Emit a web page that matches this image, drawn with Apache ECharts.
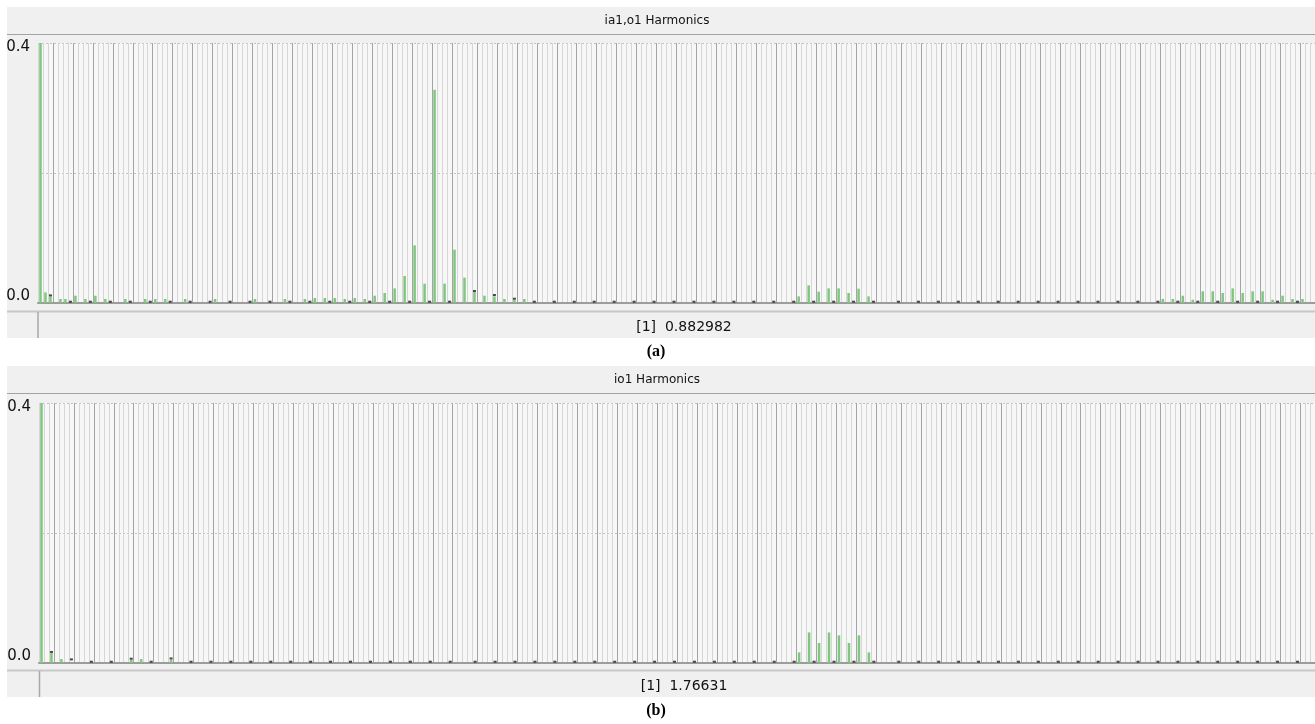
<!DOCTYPE html>
<html><head><meta charset="utf-8">
<script src="https://cdn.jsdelivr.net/npm/echarts@6/dist/echarts.min.js"></script>
<style>html,body{margin:0;padding:0;background:#fff}#c{width:1315px;height:724px}</style>
</head><body><div id="c"></div>
<script>
// ---------- data ----------
const SLOTS = 256;                       // harmonic slots on the x axis
const topTitle = 'ia1,o1 Harmonics';
const bottomTitle = 'io1 Harmonics';
const topReadout = '[1]  0.882982';
const bottomReadout = '[1]  1.76631';
const topCaption = '(a)';
const bottomCaption = '(b)';
const yTickLabels = ['0.0', '0.4'];

// [slot, value] – green trace, top chart
const topGreen = [[0,0.882982],[1,0.0163],[2,0.0102],[4,0.0062],[5,0.0062],[7,0.0112],[9,0.0062],[11,0.0112],[13,0.0062],
  [17,0.0062],[21,0.0062],[23,0.0062],[25,0.0062],[29,0.0062],[35,0.0062],[43,0.0062],[49,0.0062],[53,0.0062],
  [55,0.0077],[57,0.0077],[59,0.0077],[61,0.0062],[63,0.0077],[65,0.0062],[67,0.0112],[69,0.0154],[71,0.0225],
  [73,0.0415],[75,0.0886],[77,0.0297],[79,0.328],[81,0.0297],[83,0.082],[85,0.039],[87,0.017],[89,0.0112],
  [91,0.0102],[93,0.0062],[95,0.005],[97,0.0062],
  [152,0.0102],[154,0.027],[156,0.0174],[158,0.0225],[160,0.0225],[162,0.0154],[164,0.022],[166,0.0102],
  [225,0.0062],[227,0.0062],[229,0.0112],[231,0.005],[233,0.018],[235,0.018],[237,0.0154],[239,0.0225],
  [241,0.0154],[243,0.018],[245,0.018],[247,0.005],[249,0.0112],[251,0.0062],[253,0.0062]];

// [slot, value] – black trace, top chart
const topBlack = [[2,0.0117],[6,0.002],[10,0.002],[14,0.002],[18,0.002],[22,0.002],[26,0.002],[30,0.002],[34,0.002],
  [38,0.002],[42,0.002],[46,0.002],[50,0.002],[54,0.002],[58,0.002],[62,0.002],[66,0.002],[70,0.002],[74,0.002],
  [78,0.002],[82,0.002],[87,0.0185],[91,0.0123],[95,0.0066],[99,0.002],[103,0.002],[107,0.002],[111,0.002],
  [115,0.002],[119,0.002],[123,0.002],[127,0.002],[131,0.002],[135,0.002],[139,0.002],[143,0.002],[147,0.002],
  [151,0.002],[155,0.002],[159,0.002],[163,0.002],[167,0.002],[172,0.002],[176,0.002],[180,0.002],[184,0.002],
  [188,0.002],[192,0.002],[196,0.002],[200,0.002],[204,0.002],[208,0.002],[212,0.002],[216,0.002],[220,0.002],
  [224,0.002],[228,0.002],[232,0.002],[236,0.002],[240,0.002],[244,0.002],[248,0.002],[252,0.002]];

// [slot, value] – green trace, bottom chart
const botGreen = [[0,1.76631],[2,0.0154],[4,0.006],[18,0.005],[20,0.006],[26,0.005],
  [152,0.0163],[154,0.047],[156,0.0308],[158,0.047],[160,0.0425],[162,0.0308],[164,0.0425],[166,0.0163]];

// [slot, value] – black trace, bottom chart
const botBlack = [[2,0.017],[6,0.0055],[10,0.002],[14,0.002],[18,0.0066],[22,0.002],[26,0.007],[30,0.002],[34,0.002],
  [38,0.002],[42,0.002],[46,0.002],[50,0.002],[54,0.002],[58,0.002],[62,0.002],[66,0.002],[70,0.002],[74,0.002],
  [78,0.002],[82,0.002],[87,0.002],[91,0.002],[95,0.002],[99,0.002],[103,0.002],[107,0.002],[111,0.002],
  [115,0.002],[119,0.002],[123,0.002],[127,0.002],[131,0.002],[135,0.002],[139,0.002],[143,0.002],[147,0.002],
  [151,0.002],[155,0.002],[159,0.002],[163,0.002],[167,0.002],[172,0.002],[176,0.002],[180,0.002],[184,0.002],
  [188,0.002],[192,0.002],[196,0.002],[200,0.002],[204,0.002],[208,0.002],[212,0.002],[216,0.002],[220,0.002],
  [224,0.002],[228,0.002],[232,0.002],[236,0.002],[240,0.002],[244,0.002],[248,0.002],[252,0.002]];

// ---------- build ----------
const categories = Array.from({length: SLOTS}, (_, i) => String(i + 1));
function toSlots(pairs) {
  const arr = new Array(SLOTS).fill('-');
  pairs.forEach(([s, v]) => { arr[s] = v; });
  return arr;
}
const topMajor = new Set(topBlack.map(p => p[0]));
const botMajor = new Set(botBlack.map(p => p[0]));

const UI_FONT = 'DejaVu Sans';
const GREEN = '#7fc77f';

function yAxis(gi) {
  return {
    gridIndex: gi, type: 'value', min: 0, max: 0.4, interval: 0.2,
    axisLine: {show: false}, axisTick: {show: false},
    splitLine: {show: true, lineStyle: {color: '#c2c2c2', type: [2, 2], width: 1}},
    axisLabel: {
      margin: 8,
      formatter: v => v === 0 ? '{b|' + yTickLabels[0] + '}' : (Math.abs(v - 0.4) < 1e-9 ? '{t|' + yTickLabels[1] + '}' : ''),
      rich: {
        t: {fontSize: 15, fontFamily: UI_FONT, color: '#111', lineHeight: 15, padding: [9, 0, 0, 0]},
        b: {fontSize: 15, fontFamily: UI_FONT, color: '#111', lineHeight: 15, padding: [0, 0, 14, 0]}
      }
    }
  };
}
function xAxes(gi, majorSet) {
  return [
    {gridIndex: gi, type: 'category', data: categories, boundaryGap: true,
     axisLine: {show: true, onZero: false, lineStyle: {color: '#9c9c9c', width: 2}},
     axisTick: {show: false}, axisLabel: {show: false},
     splitLine: {show: true, interval: 0, lineStyle: {color: '#d6d6d6', width: 1}}},
    {gridIndex: gi, type: 'category', data: categories, boundaryGap: true, position: 'top',
     axisLine: {show: false}, axisTick: {show: false}, axisLabel: {show: false},
     splitLine: {show: true, interval: (idx) => majorSet.has(idx - 1), lineStyle: {color: '#a4a4a4', width: 1}}}
  ];
}
function panel(y0, titleText, readout, caption, sepX) {
  // y0: top of the title bar
  return [
    {type: 'rect', z: -10, shape: {x: 7, y: y0, width: 1308, height: 331}, style: {fill: '#f0f0f0'}},
    {type: 'line', z: -9, shape: {x1: 7, y1: y0 + 27.5, x2: 1315, y2: y0 + 27.5}, style: {stroke: '#a3a3a3', lineWidth: 1}},
    {type: 'line', z: -9, shape: {x1: 7, y1: y0 + 304.5, x2: 1315, y2: y0 + 304.5}, style: {stroke: '#c8c8c8', lineWidth: 2}},
    {type: 'line', z: -9, shape: {x1: sepX, y1: y0 + 305, x2: sepX, y2: y0 + 331}, style: {stroke: '#a8a8a8', lineWidth: 1.5}},
    {type: 'text', z: 5, style: {text: titleText, x: 657, y: y0 + 14, align: 'center', verticalAlign: 'middle',
      font: '12px "DejaVu Sans"', fill: '#111'}},
    {type: 'text', z: 5, style: {text: readout, x: 684, y: y0 + 320.5, align: 'center', verticalAlign: 'middle',
      font: '14px "DejaVu Sans"', fill: '#111'}},
    {type: 'text', z: 5, style: {text: caption, x: 656, y: y0 + 345, align: 'center', verticalAlign: 'middle',
      font: 'bold 16px "Liberation Serif"', fill: '#000'}}
  ];
}

const chart = echarts.init(document.getElementById('c'), null, {renderer: 'canvas'});
chart.setOption({
  animation: false,
  backgroundColor: '#ffffff',
  grid: [
    {left: 38, top: 43, width: 1282, height: 260, show: true, backgroundColor: '#f7f7f7', borderWidth: 0},
    {left: 39, top: 403, width: 1282, height: 260, show: true, backgroundColor: '#f7f7f7', borderWidth: 0}
  ],
  xAxis: [...xAxes(0, topMajor), ...xAxes(1, botMajor)],
  yAxis: [yAxis(0), yAxis(1)],
  graphic: [...panel(7, topTitle, topReadout, topCaption, 38), ...panel(366, bottomTitle, bottomReadout, bottomCaption, 39.5)],
  series: [
    {type: 'bar', xAxisIndex: 0, yAxisIndex: 0, data: toSlots(topGreen), barWidth: 2.5, clip: true, silent: true,
     itemStyle: {color: GREEN}},
    {type: 'scatter', xAxisIndex: 0, yAxisIndex: 0, data: topBlack, symbol: 'rect', symbolSize: [3, 2], silent: true,
     itemStyle: {color: '#1e1e1e'}, z: 4},
    {type: 'bar', xAxisIndex: 2, yAxisIndex: 1, data: toSlots(botGreen), barWidth: 2.5, clip: true, silent: true,
     itemStyle: {color: GREEN}},
    {type: 'scatter', xAxisIndex: 2, yAxisIndex: 1, data: botBlack, symbol: 'rect', symbolSize: [3, 2], silent: true,
     itemStyle: {color: '#1e1e1e'}, z: 4}
  ]
});
</script></body></html>
